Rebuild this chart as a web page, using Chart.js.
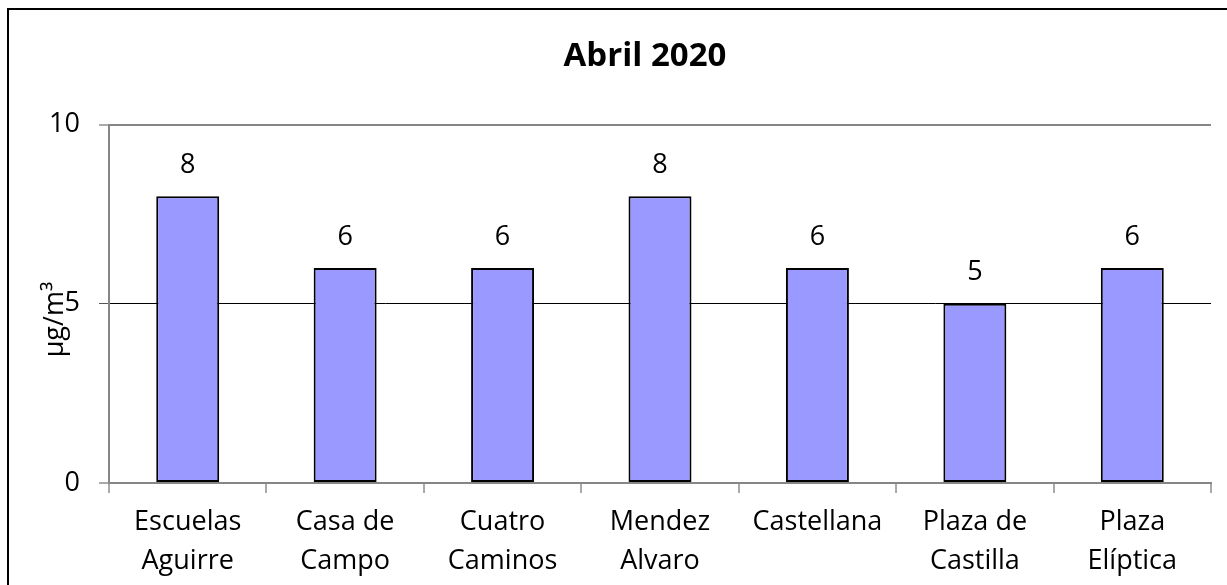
<!DOCTYPE html>
<html>
<head>
<meta charset="utf-8">
<title>Abril 2020</title>
<script src="https://cdn.jsdelivr.net/npm/chart.js@4.4.0/dist/chart.umd.min.js"></script>
<style>
  html, body { margin: 0; padding: 0; background: #fff; }
  #wrap { position: relative; width: 1227px; height: 585px; overflow: hidden; }
  #frame {
    position: absolute; left: 7px; top: 8px; width: 1300px; height: 700px;
    border-left: 2px solid #000; border-top: 2px solid #000;
    box-sizing: border-box; pointer-events: none;
  }
  canvas { position: absolute; left: 0; top: 0; }
</style>
</head>
<body>
<div id="wrap">
  <div id="frame"></div>
  <canvas id="chart" width="1227" height="585"></canvas>
</div>
<script>
// data
const stations = [
  ["Escuelas", "Aguirre"],
  ["Casa de", "Campo"],
  ["Cuatro", "Caminos"],
  ["Mendez", "Alvaro"],
  ["Castellana"],
  ["Plaza de", "Castilla"],
  ["Plaza", "Elíptica"]
];
const values = [8, 6, 6, 8, 6, 5, 6];
const yTicks = [0, 5, 10];

const AXIS_GREY = "#868686";
const FONT = '"Open Sans", "DejaVu Sans", sans-serif';

Chart.defaults.font.family = FONT;
Chart.defaults.color = "#000";

// value labels above each bar
const barLabels = {
  id: "barLabels",
  afterDatasetsDraw(chart) {
    const ctx = chart.ctx;
    const meta = chart.getDatasetMeta(0);
    ctx.save();
    ctx.font = "27px " + FONT;
    ctx.fillStyle = "#000";
    ctx.textAlign = "center";
    ctx.textBaseline = "middle";
    meta.data.forEach((bar, i) => {
      ctx.fillText(String(values[i]), bar.x, bar.y - 31);
    });
    ctx.restore();
  }
};

// the title sits a bit left of the plot centre in the original
const titleShift = {
  id: "titleShift",
  afterLayout(chart) {
    const t = chart.titleBlock;
    if (t) {
      t.left = chart.chartArea.left - 30;
      t.right = chart.chartArea.right;
    }
  }
};

new Chart(document.getElementById("chart"), {
  type: "bar",
  data: {
    labels: stations,
    datasets: [
      {
        data: values,
        backgroundColor: "#9999FF",
        borderColor: "#000",
        borderWidth: 2,
        borderSkipped: false,
        categoryPercentage: 1,
        barPercentage: 0.4
      }
    ]
  },
  options: {
    responsive: false,
    devicePixelRatio: 1,
    animation: false,
    layout: {
      padding: { left: 0, right: 16, top: 0, bottom: 0 }
    },
    plugins: {
      legend: { display: false },
      tooltip: { enabled: false },
      title: {
        display: true,
        text: "Abril 2020",
        color: "#000",
        font: { size: 33, weight: "bold" },
        padding: { top: 37, bottom: 48 }
      }
    },
    scales: {
      x: {
        offset: true,
        grid: {
          offset: true,
          drawOnChartArea: true,
          color: (c) => (c.index === stations.length ? AXIS_GREY : "rgba(0,0,0,0)"),
          lineWidth: 2,
          tickColor: "#555",
          tickWidth: 1,
          tickLength: 10
        },
        border: { display: true, color: AXIS_GREY, width: 2 },
        ticks: {
          color: "#000",
          padding: 10,
          maxRotation: 0,
          autoSkip: false,
          font: { size: 27, lineHeight: 1.45 }
        },
        afterFit(scale) {
          scale.height = 102;
        }
      },
      y: {
        min: 0,
        max: 10,
        afterBuildTicks(scale) {
          scale.ticks = yTicks.map((v) => ({ value: v }));
        },
        grid: {
          color: (c) => (c.tick && c.tick.value === 5 ? "#000" : AXIS_GREY),
          lineWidth: (c) => (c.tick && c.tick.value === 5 ? 1 : 2),
          tickColor: "#555",
          tickWidth: 1,
          tickLength: 10
        },
        border: { display: true, color: AXIS_GREY, width: 2 },
        ticks: {
          color: "#000",
          padding: 19,
          font: { size: 27 }
        },
        title: {
          display: true,
          // trailing spaces nudge the rotated unit label down, as in the original
          text: "µg/m³\u2002\u2002\u2009",
          color: "#000",
          font: { size: 27 },
          padding: { top: 39, bottom: 0 }
        },
        afterFit(scale) {
          scale.width = 109;
        }
      }
    }
  },
  plugins: [barLabels, titleShift]
});
</script>
</body>
</html>
